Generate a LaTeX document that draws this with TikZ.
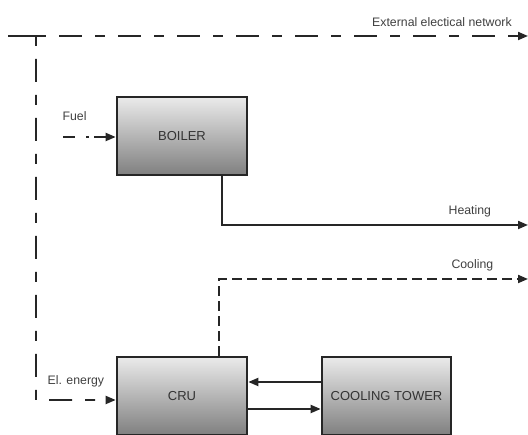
\documentclass[tikz,border=0pt]{standalone}
\usepackage{fontspec}
\setmainfont{Liberation Sans}
\usetikzlibrary{arrows.meta,positioning}

\begin{document}
\begin{tikzpicture}[    font=\fontsize{7}{8}\selectfont,
    >={Triangle[length=2mm,width=1.6mm]},
    node distance=5.2cm and 4.09cm,
    unit/.style={draw=black!85, line width=1.5pt, minimum width=2.6cm, minimum height=1.56cm, top color=black!8, bottom color=black!50, text=black!80, font=\fontsize{7.4}{9}\selectfont},
    flow/.style={draw=black!85, line width=1.1pt},
    elec/.style={flow, dash pattern=on 2mm off 2.6mm on 4.6mm off 2.6mm},
    cold/.style={flow, dash pattern=on 1.9mm off 1.1mm},
    lbl/.style={text=black!75, inner sep=1pt}]

\useasboundingbox (0,0) rectangle (10.56,-8.7);

\node [unit] (boiler) at (3.64,-2.72) {BOILER};
\node [unit, on grid] (cru) [below=of boiler] {CRU};
\node [unit, on grid, minimum width=2.58cm] (tower) [right=of cru] {COOLING TOWER};

\coordinate (grid0) at (0.16,-0.72);
\coordinate (gridj) at (0.72,-0.72);
\coordinate (gridout) at (10.56,-0.72);
\coordinate (elcorner) at (0.72,-8.0);
\coordinate (fuelin) at (1.26,-2.74);
\coordinate (heatcorner) at (4.44,-4.5);
\coordinate (heatout) at (10.56,-4.5);
\coordinate (coolcorner) at (4.38,-5.58);
\coordinate (coolout) at (10.56,-5.58);

% electrical network
\draw [flow] (grid0) -- (gridj);
\draw [elec,->] (gridj) -- (gridout) node[lbl, pos=0.985, above left=5pt] {External electical network};
\draw [elec,->] (gridj) -- (elcorner) -- ([yshift=-0.08cm]cru.west) node[lbl, pos=0.5, above=6pt] {El. energy};

% boiler
\draw [flow, dash pattern=on 2.4mm off 2.2mm on 0.6mm off 1mm, ->] (fuelin) -- (boiler.west |- fuelin) node[lbl, pos=0.22, above=8pt] {Fuel};
\draw [flow,->] (boiler.south -| heatcorner) -- (heatcorner) -- (heatout) node[lbl, pos=0.81, above=3pt] {Heating};

% cooling
\draw [cold,->] (cru.north -| coolcorner) -- (coolcorner) -- (coolout) node[lbl, pos=0.82, above=3pt] {Cooling};
\draw [flow,->] ([yshift=0.28cm]tower.west) -- ([yshift=0.28cm]cru.east);
\draw [flow,->] ([yshift=-0.26cm]cru.east) -- ([yshift=-0.26cm]tower.west);

\end{tikzpicture}
\end{document}
